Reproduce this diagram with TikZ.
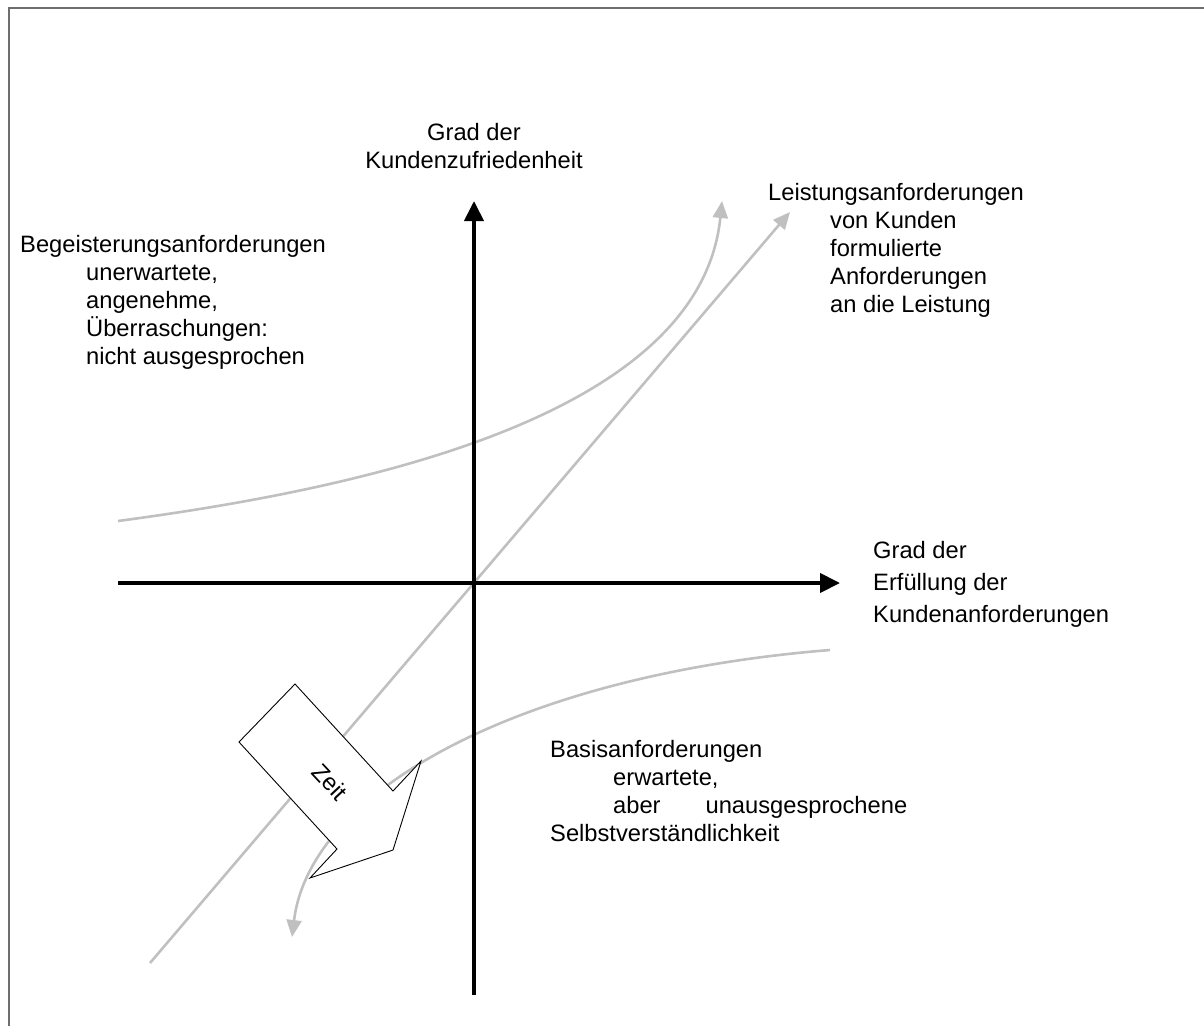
\documentclass[tikz,border=0pt]{standalone}
\usepackage{fontspec}
\setmainfont{Liberation Sans}
\usetikzlibrary{arrows.meta}
\definecolor{curvegray}{RGB}{192,192,192}
\definecolor{framegray}{RGB}{110,110,110}
\begin{document}
\begin{tikzpicture}[x=1pt,y=-1pt,
  axis/.style={line width=4pt, -{Triangle[length=20pt,width=19pt]}},
  trend/.style={line width=2.6pt, draw=curvegray, -{Triangle[length=17pt,width=15pt]}},
  lbl/.style={font=\fontsize{23.7}{28}\selectfont, inner sep=0pt, align=left, anchor=base west},
]
\useasboundingbox (0,0) rectangle (1204,1026);

% frame (left and top edges)
\draw[framegray, line width=2pt] (8.5,1026) -- (8.5,7.5) -- (1204,7.5);

% coordinates
\coordinate (yb) at (474,995);
\coordinate (yt) at (474,201);
\coordinate (xl) at (118,583);
\coordinate (xr) at (840,583);
\coordinate (dl) at (150,963);
\coordinate (dr) at (790,212);
\coordinate (ul) at (118,521);
\coordinate (ur) at (722,201);
\coordinate (lr) at (830,650);
\coordinate (ll) at (292,937);

% trend curves
\draw[trend] (ul) .. controls (350,490) and (700,420) .. (ur);
\draw[trend] (dl) -- (dr);
\draw[trend] (lr) .. controls (520,675) and (310,790) .. (ll);

% axes
\draw[axis] (yb) -- (yt);
\draw[axis] (xl) -- (xr);

% time arrow
\draw[black, line width=0.9pt, fill=white]
  (295,684) -- (239,742) -- (337,849) -- (310,878) -- (393,850)
  -- (421,761) -- (393,791) -- cycle;
\node[font=\fontsize{23.7}{28}\selectfont, rotate=-47] (zeit) at (330,782) {Zeit};

% labels (anchored at the baseline of their last line)
\node[font=\fontsize{23.7}{28}\selectfont, inner sep=0pt, align=center, anchor=base]
  (ylabel) at (474,168) {Grad der\\Kundenzufriedenheit};
\node[lbl] (xlabel) at (873,622) {Grad der\\[4pt]Erfüllung der\\[4pt]Kundenanforderungen};
\node[lbl] (leist) at (768,312) {Leistungsanforderungen\\
  \hspace*{62pt}von Kunden\\
  \hspace*{62pt}formulierte\\
  \hspace*{62pt}Anforderungen\\
  \hspace*{62pt}an die Leistung};
\node[lbl] (begeist) at (20,364) {Begeisterungsanforderungen\\
  \hspace*{66pt}unerwartete,\\
  \hspace*{66pt}angenehme,\\
  \hspace*{66pt}Überraschungen:\\
  \hspace*{66pt}nicht ausgesprochen};
\node[lbl] (basis) at (550,841) {Basisanforderungen\\
  \hspace*{63pt}erwartete,\\
  \hspace*{63pt}aber\hspace{45pt}unausgesprochene\\
  Selbstverständlichkeit};
\end{tikzpicture}
\end{document}
